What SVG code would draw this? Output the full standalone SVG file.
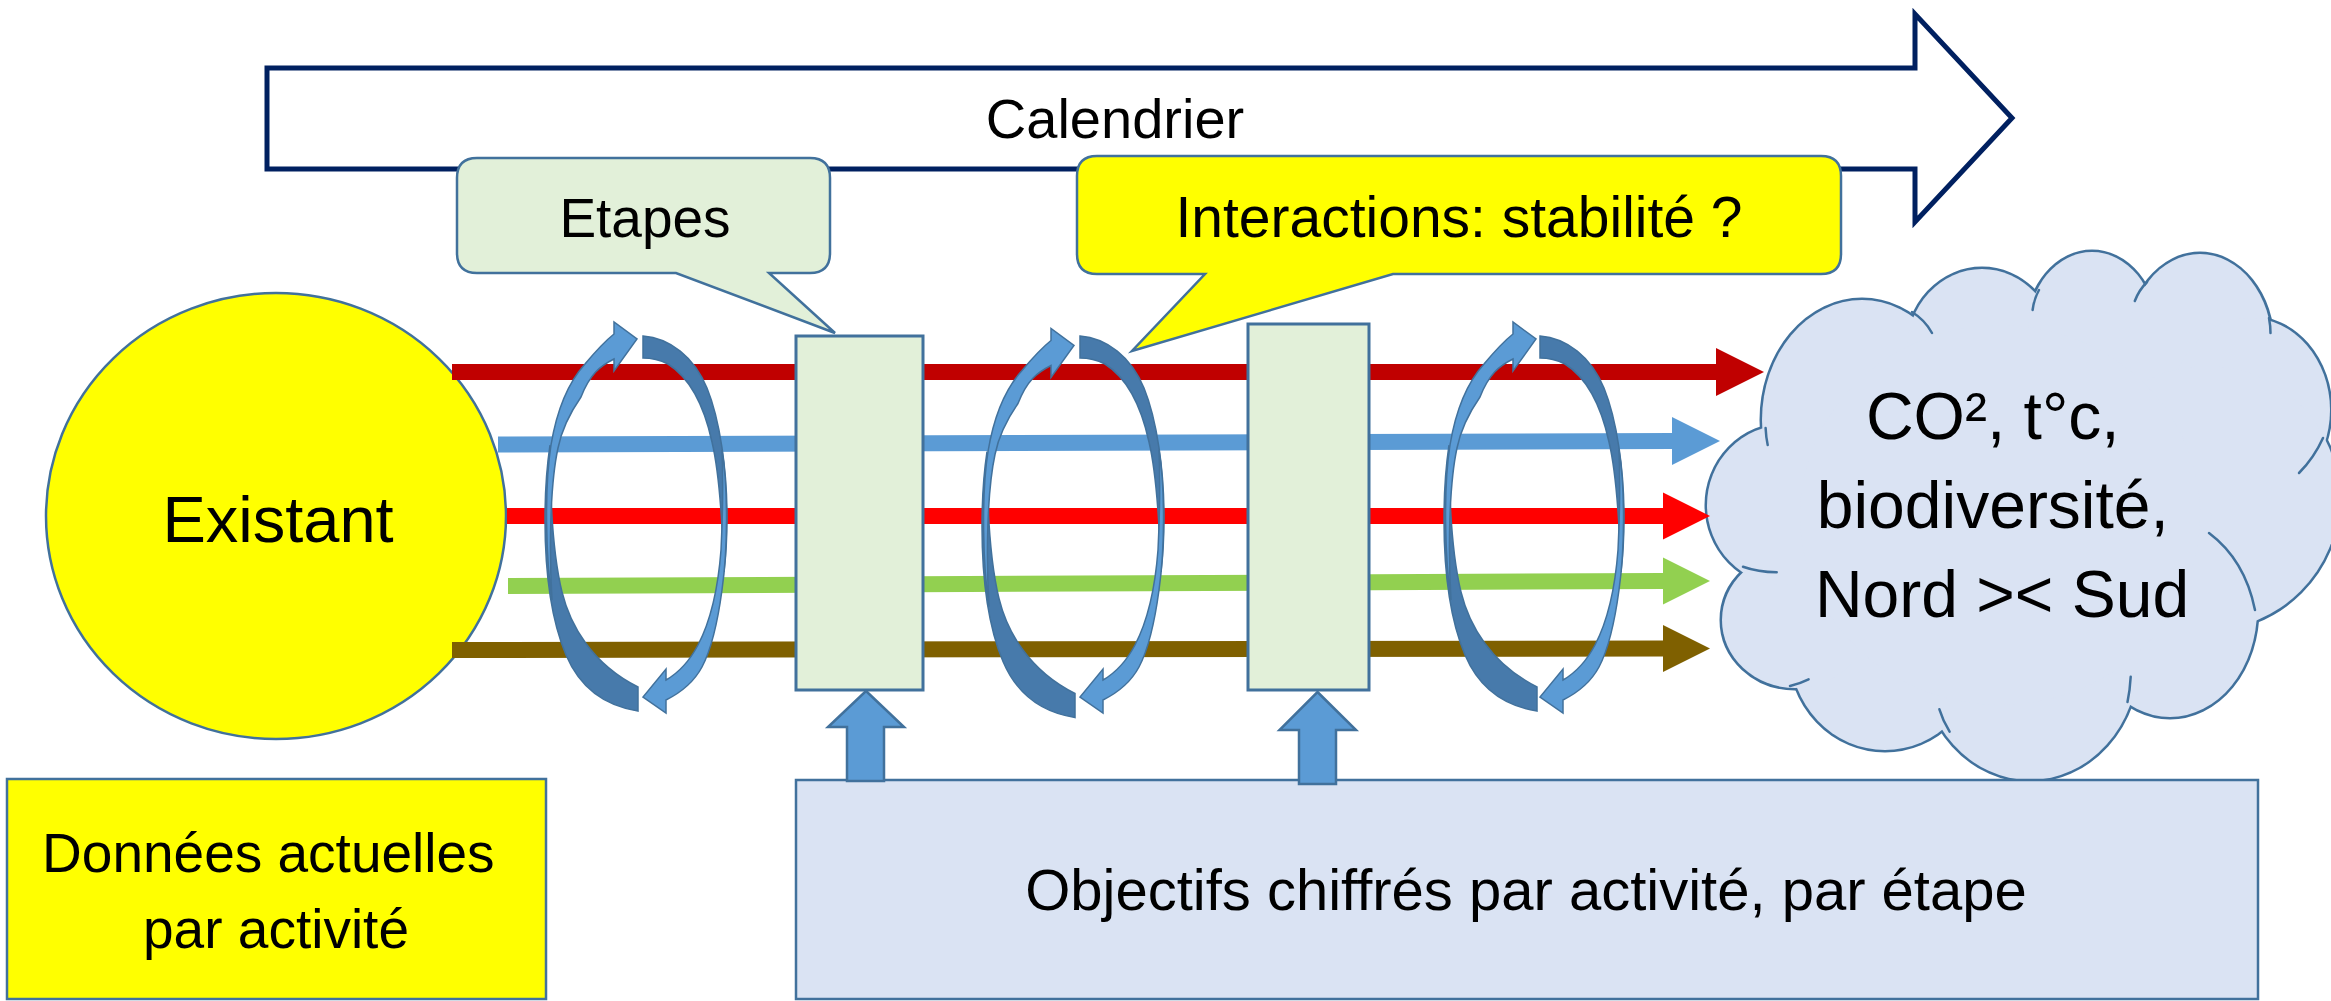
<svg xmlns="http://www.w3.org/2000/svg" xmlns:xlink="http://www.w3.org/1999/xlink" width="2331" height="1001" viewBox="0 0 2331 1001">
  <defs>
    <style>
      text { font-family: "Liberation Sans", Arial, sans-serif; fill: #000; text-anchor: middle; }
      .edge { stroke: #41719C; stroke-width: 2.5; }
      .stage { fill: #E2F0D9; stroke: #41719C; stroke-width: 3; }
      .up { fill: #5B9BD5; stroke: #41719C; stroke-width: 2.5; stroke-linejoin: miter; }
      .loop-dark { fill: #477AAB; stroke: #41719C; stroke-width: 1.5; }
      .loop-light { fill: #5B9BD5; stroke: #41719C; stroke-width: 1.5; stroke-linejoin: miter; }
      .inner { fill: none; stroke: #41719C; stroke-width: 2.5; stroke-linecap: round; }
    </style>
    <!-- half loop on the left: shaded back, then the front band ending in the head at the top -->
    <g id="loop-left">
      <path class="loop-dark" d="M638,711 C606,706 580,688 566,655 C552,622 545,575 545,520 C545,490 547,465 550,445 C550,500 553,555 562,592 C570,625 592,664 638,687 Z"/>
      <path class="loop-light" d="M552,600 C546,560 544,490 551,445 C556,415 566,385 585,364 C595,352 604,342 614,334 L614,322 L637,339 L614,371 L614,359 C600,366 590,374 581,397 C572,410 562,428 558,448 C550,485 549,550 552,600 Z"/>
    </g>
    <!-- half loop on the right: shaded back at the top, head at the bottom -->
    <g id="loop-right">
      <path class="loop-dark" d="M643,336 C670,338 694,357 707,388 C720,420 727,470 727,517 C727,540 726,555 724,572 C723,540 721,480 712,442 C704,405 690,378 668,364 C660,360 652,358 643,358 Z"/>
      <path class="loop-light" d="M722,450 C727,480 729,540 722,590 C718,620 712,648 702,667 C695,680 682,692 666,700 L666,713 L643,697 L666,669 L666,680 C680,672 690,660 698,645 C710,622 718,590 721,550 C723,510 723,475 722,450 Z"/>
    </g>
    <!-- lobes of the cloud -->
    <g id="cloud-lobes">
      <ellipse cx="1862" cy="420" rx="100" ry="120"/>
      <ellipse cx="1982" cy="350" rx="75" ry="81"/>
      <ellipse cx="2092" cy="330" rx="64" ry="78"/>
      <ellipse cx="2200" cy="345" rx="72" ry="91"/>
      <ellipse cx="2250" cy="410" rx="80" ry="92"/>
      <circle cx="2207" cy="498" r="132"/>
      <ellipse cx="2170" cy="610" rx="87" ry="107"/>
      <ellipse cx="2030" cy="660" rx="108" ry="120"/>
      <ellipse cx="1885" cy="650" rx="95" ry="100"/>
      <ellipse cx="1795" cy="620" rx="73" ry="68"/>
      <ellipse cx="1785" cy="505" rx="78" ry="80"/>
    </g>
  </defs>

  <rect width="2331" height="1001" fill="#fff"/>

  <!-- timeline arrow -->
  <g id="calendrier">
    <path d="M267,68 H1915 V14 L2012,118 L1915,222 V169 H267 Z" fill="#fff" stroke="#002060" stroke-width="5"/>
    <text x="1115" y="138" font-size="56">Calendrier</text>
  </g>

  <!-- starting situation -->
  <g id="existant">
    <ellipse cx="276" cy="516" rx="230" ry="223" fill="#FFFF00" class="edge"/>
    <text x="278" y="542" font-size="65">Existant</text>
  </g>

  <!-- target cloud -->
  <g id="nuage">
    <use xlink:href="#cloud-lobes" fill="none" stroke="#41719C" stroke-width="5"/>
    <use xlink:href="#cloud-lobes" fill="#DAE3F3" stroke="none"/>
    <ellipse cx="2000" cy="515" rx="200" ry="190" fill="#DAE3F3"/>
    <g class="inner">
      <path d="M1912,312 Q1925,320 1932,333"/>
      <path d="M2039,290 Q2034,299 2032.6,310"/>
      <path d="M2147,282 Q2139,290 2134.8,301"/>
      <path d="M2269,318 Q2270.5,326 2270.5,333"/>
      <path d="M2323,438 Q2314,458 2299,473"/>
      <path d="M2209,533 Q2245,560 2255,610"/>
      <path d="M2130.7,676.7 Q2130,690 2127.5,702"/>
      <path d="M1939.4,709.3 Q1943,721 1949.6,731.7"/>
      <path d="M1808.6,679.3 Q1800,683.5 1790,686"/>
      <path d="M1776.7,572.3 Q1758,572 1743,566.7"/>
      <path d="M1767.7,445 Q1766,437 1765.6,428"/>
    </g>
    <text font-size="66">
      <tspan x="2002" y="439">CO², t°c,</tspan>
      <tspan x="2002" y="528">biodiversité,</tspan>
      <tspan x="2002" y="617">Nord &gt;&lt; Sud</tspan>
    </text>
  </g>

  <!-- activity flows -->
  <g id="connectors">
    <path fill="#C00000" d="M452,364 H1716 V348 L1764,372 L1716,396 V380 H452 Z"/>
    <path fill="#5B9BD5" d="M498,436.5 L1672,433 V417 L1720,441 L1672,465 V449 L498,452.5 Z"/>
    <path fill="#FF0000" d="M507,508 H1663 V492.5 L1710,516 L1663,539.5 V524 H507 Z"/>
    <path fill="#92D050" d="M508,578 L1663,573 V557.5 L1710,581 L1663,604.5 V589 L508,594 Z"/>
    <path fill="#7F6000" d="M452,642 L1663,640.5 V625 L1710,648.5 L1663,672 V656.5 L452,658 Z"/>
  </g>

  <!-- stages -->
  <g id="etape-1">
    <rect class="stage" x="796" y="336" width="127" height="354"/>
  </g>
  <g id="etape-2">
    <rect class="stage" x="1248" y="324" width="121" height="366"/>
  </g>

  <!-- feedback loops between stages -->
  <g id="boucle-1">
    <use xlink:href="#loop-left"/>
    <use xlink:href="#loop-right"/>
  </g>
  <g id="boucle-2">
    <use xlink:href="#loop-left" transform="translate(437,6.5)"/>
    <use xlink:href="#loop-right" transform="translate(437,0)"/>
  </g>
  <g id="boucle-3">
    <use xlink:href="#loop-left" transform="translate(899,0)"/>
    <use xlink:href="#loop-right" transform="translate(897,0)"/>
  </g>

  <!-- callouts -->
  <g id="bulle-etapes">
    <path d="M477,158 H810 Q830,158 830,178 V253 Q830,273 810,273 H769 L835,333 L676,273 H477 Q457,273 457,253 V178 Q457,158 477,158 Z" fill="#E2F0D9" class="edge"/>
    <text x="645" y="237" font-size="55">Etapes</text>
  </g>
  <g id="bulle-interactions">
    <path d="M1097,156 H1821 Q1841,156 1841,176 V254 Q1841,274 1821,274 H1393 L1132,351 L1205,274 H1097 Q1077,274 1077,254 V176 Q1077,156 1097,156 Z" fill="#FFFF00" class="edge"/>
    <text x="1459" y="237" font-size="57">Interactions: stabilité ?</text>
  </g>

  <!-- current data -->
  <g id="donnees">
    <rect x="7" y="779" width="539" height="220" fill="#FFFF00" class="edge"/>
    <text font-size="55">
      <tspan x="276" y="872">Données actuelles</tspan>
      <tspan x="276" y="948">par activité</tspan>
    </text>
  </g>

  <!-- targets -->
  <g id="objectifs">
    <rect x="796" y="780" width="1462" height="219" fill="#DAE3F3" class="edge"/>
    <text x="1526" y="910" font-size="58">Objectifs chiffrés par activité, par étape</text>
  </g>

  <!-- targets feeding each stage -->
  <g id="fleche-etape-1">
    <path class="up" d="M866,691 L904,727 H884 V781 H847 V727 H828 Z"/>
  </g>
  <g id="fleche-etape-2">
    <path class="up" d="M1317.5,692 L1356,730 H1336 V784 H1299 V730 H1279.5 Z"/>
  </g>
</svg>
